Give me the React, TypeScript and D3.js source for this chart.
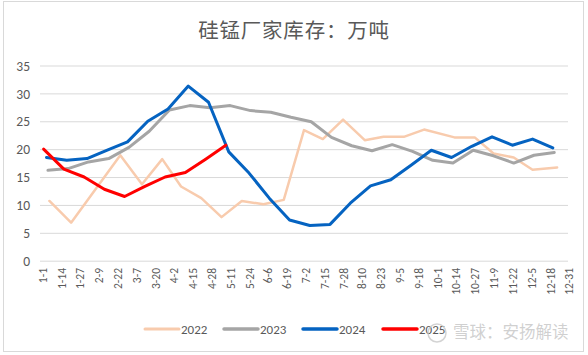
import React from "react";
import * as d3 from "d3";

const TITLE = "硅锰厂家库存：万吨";
const X_TICK_DAYS = [0, 13, 26, 39, 52, 65, 78, 91, 104, 117, 130, 143, 156, 169, 182, 195, 208, 221, 234, 247, 260, 273, 286, 299, 312, 325, 338, 351, 364];
const X_TICK_LABELS = ["1-1", "1-14", "1-27", "2-9", "2-22", "3-7", "3-20", "4-2", "4-15", "4-28", "5-11", "5-24", "6-6", "6-19", "7-2", "7-15", "7-28", "8-10", "8-23", "9-5", "9-18", "10-1", "10-14", "10-27", "11-9", "11-22", "12-5", "12-18", "12-31"];
const Y_TICKS = [0, 5, 10, 15, 20, 25, 30, 35];

const DAYS_2022 = [6, 21, 55, 70, 84, 97, 111, 125, 139, 154, 168, 182, 195, 209, 224, 237, 251, 265, 286, 300, 313, 327, 340, 357];
const VALUES_2022 = [10.8, 6.9, 19.0, 13.8, 18.3, 13.4, 11.3, 7.9, 10.8, 10.2, 11.0, 23.5, 21.9, 25.4, 21.7, 22.3, 22.3, 23.6, 22.2, 22.2, 19.3, 18.6, 16.4, 16.8];

const DAYS_2023 = [5, 19, 33, 47, 61, 75, 89, 103, 117, 131, 145, 159, 173, 187, 201, 215, 229, 243, 257, 271, 285, 299, 313, 327, 341, 355];
const VALUES_2023 = [16.3, 16.6, 17.8, 18.4, 20.4, 23.3, 27.1, 27.9, 27.5, 27.9, 27.0, 26.7, 25.8, 25.0, 22.2, 20.7, 19.8, 20.9, 19.7, 18.1, 17.6, 19.9, 18.9, 17.6, 19.0, 19.5];

const DAYS_2024 = [4, 18, 32, 46, 60, 74, 88, 102, 116, 130, 144, 158, 172, 186, 200, 214, 228, 242, 256, 270, 284, 298, 312, 326, 340, 354];
const VALUES_2024 = [18.6, 18.1, 18.4, 19.9, 21.4, 25.1, 27.3, 31.4, 28.5, 19.6, 15.8, 11.3, 7.4, 6.4, 6.6, 10.4, 13.5, 14.6, 17.2, 19.9, 18.6, 20.6, 22.3, 20.8, 21.9, 20.3];

const DAYS_2025 = [2, 16, 30, 44, 58, 72, 86, 100, 114, 128];
const VALUES_2025 = [20.1, 16.5, 15.1, 12.9, 11.6, 13.4, 15.1, 15.9, 18.3, 20.8];

const SERIES = [
  { name: "2022", days: DAYS_2022, values: VALUES_2022, color: "#F8CBAD", width: 2.5 },
  { name: "2023", days: DAYS_2023, values: VALUES_2023, color: "#A5A5A5", width: 3 },
  { name: "2024", days: DAYS_2024, values: VALUES_2024, color: "#0563C1", width: 3 },
  { name: "2025", days: DAYS_2025, values: VALUES_2025, color: "#FF0000", width: 3 },
];

const FONT = "'Microsoft YaHei', 'Noto Sans CJK SC', 'DejaVu Sans', sans-serif";
const LATIN = "Calibri, Carlito, 'Liberation Sans', 'Open Sans', sans-serif";

export default function App() {
  const W = 588, H = 355;
  const x = d3.scaleLinear().domain([-0.5, 364.5]).range([40, 568]);
  const y = d3.scaleLinear().domain([0, 35]).range([261.2, 66]);
  const line = d3.line<[number, number]>().x(d => x(d[0])).y(d => y(d[1]));

  const legendX = [145, 224, 303, 383];

  return (
    <svg width={W} height={H} style={{ position: "absolute", left: 0, top: 0 }}>
      <rect x={0} y={0} width={W} height={H} fill="#fff" />
      <rect x={3.5} y={1.5} width={580} height={350} fill="#fff" stroke="#d9d9d9" strokeWidth={1} />
      <text x={294} y={38} textAnchor="middle" fontSize={20.5} letterSpacing={0.8} fill="#595959" fontFamily={FONT}>{TITLE}</text>
      {Y_TICKS.map(t => (
        <g key={t}>
          <line x1={40} x2={568} y1={y(t)} y2={y(t)} stroke="#d9d9d9" strokeWidth={1} />
          <text x={30} y={y(t)} dy="0.35em" textAnchor="end" fontSize={13.5} fill="#595959" fontFamily={LATIN}>{t}</text>
        </g>
      ))}
      {X_TICK_DAYS.map((d, i) => (
        <text key={d} transform={`translate(${x(d) + 2},${268}) rotate(-90)`} dy="0.35em" textAnchor="end" fontSize={11.5} fill="#595959" fontFamily={LATIN}>{X_TICK_LABELS[i]}</text>
      ))}
      {SERIES.map(s => (
        <path key={s.name} d={line(s.days.map((d, i) => [d, s.values[i]] as [number, number])) || ""} fill="none" stroke={s.color} strokeWidth={s.width} strokeLinejoin="round" strokeLinecap="round" />
      ))}
      {SERIES.map((s, i) => (
        <g key={s.name}>
          <line x1={legendX[i]} x2={legendX[i] + 34} y1={329} y2={329} stroke={s.color} strokeWidth={s.width + 0.5} strokeLinecap="round" />
          <text x={legendX[i] + 36} y={329} dy="0.35em" fontSize={13} fill="#595959" fontFamily={LATIN}>{s.name}</text>
        </g>
      ))}
      <circle cx={437} cy={333} r={9} fill="none" stroke="#c8c8c8" strokeOpacity={0.8} strokeWidth={1.5} />
      <text x={453} y={338} fontSize={16.5} fill="#c8c8c8" fillOpacity={0.85} fontFamily={FONT}>雪球：安扬解读</text>
    </svg>
  );
}
